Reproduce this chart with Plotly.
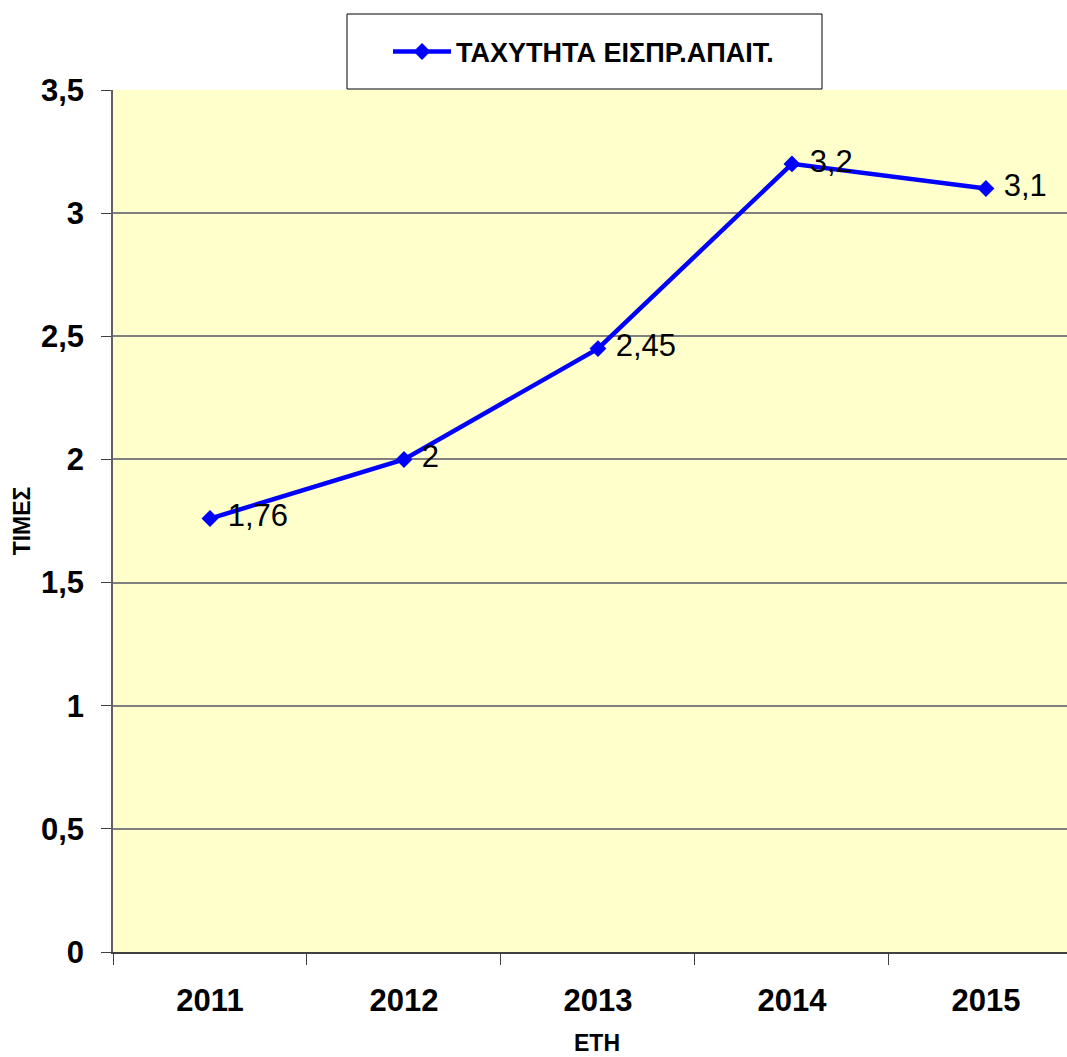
import plotly.graph_objects as go

years = ["2011", "2012", "2013", "2014", "2015"]
values = [1.76, 2.0, 2.45, 3.2, 3.1]
series_name = "ΤΑΧΥΤΗΤΑ ΕΙΣΠΡ.ΑΠΑΙΤ."
x_title = "ΕΤΗ"
y_title = "ΤΙΜΕΣ"
y_ticks = [0, 0.5, 1, 1.5, 2, 2.5, 3, 3.5]

# data labels use a comma decimal, leading space pushes them off the marker
labels = [" " + f"{v:g}".replace(".", ",") for v in values]
font = "Liberation Sans, Arial, sans-serif"

fig = go.Figure()
fig.add_trace(go.Scatter(
    x=years, y=values, mode="lines+markers+text",
    name=series_name,
    line=dict(color="#0000FF", width=4.5),
    marker=dict(symbol="diamond", size=13, color="#0000FF"),
    text=labels, textposition="middle right",
    textfont=dict(family=font, size=31, color="black"),
    cliponaxis=False,
))

# legend frame
fig.add_shape(
    type="rect", xref="paper", yref="paper",
    x0=(347 - 113) / 954, x1=(822 - 113) / 954,
    y0=(952 - 89) / 862, y1=(952 - 14) / 862,
    line=dict(color="black", width=1), fillcolor="white", layer="below",
)

# x title sits low near the page edge, as in the original
fig.add_annotation(
    text=x_title, xref="paper", yref="paper",
    x=(597 - 113) / 954, y=(952 - 1043) / 862,
    xanchor="center", yanchor="middle", showarrow=False,
    font=dict(size=23, weight="bold", family=font),
)

fig.update_layout(
    width=1067, height=1057,
    margin=dict(l=113, r=0, t=90, b=105),
    paper_bgcolor="white",
    plot_bgcolor="#FFFFCC",
    separators=",.",
    font=dict(family=font, color="black"),
    showlegend=True,
    legend=dict(
        x=(388 - 113) / 954, y=(952 - 52) / 862,
        xanchor="left", yanchor="middle",
        bgcolor="rgba(0,0,0,0)", borderwidth=0,
        itemwidth=58,
        font=dict(size=27, weight="bold", family=font),
    ),
    xaxis=dict(
        type="category",
        range=[-0.5, 4.418],
        automargin=False,
        showgrid=False,
        showline=True, linecolor="#404040", linewidth=1.5,
        ticks="outside", tickson="boundaries", ticklen=11,
        tickcolor="#404040",
        tickfont=dict(size=31, weight="bold", family=font),
        ticklabelstandoff=20,
    ),
    yaxis=dict(
        range=[0, 3.5],
        tickvals=y_ticks,
        automargin=False,
        showgrid=True, gridcolor="#808080", gridwidth=1.5,
        zeroline=False,
        showline=True, linecolor="#606060", linewidth=1.5,
        ticks="outside", ticklen=10, tickcolor="#404040",
        tickfont=dict(size=31, weight="bold", family=font),
        ticklabelstandoff=11,
        title=dict(text=y_title, font=dict(size=23, weight="bold", family=font),
                   standoff=4),
    ),
)

fig.write_html("out.html", config={"displayModeBar": False},
               post_script="document.body.style.margin = '0';")
